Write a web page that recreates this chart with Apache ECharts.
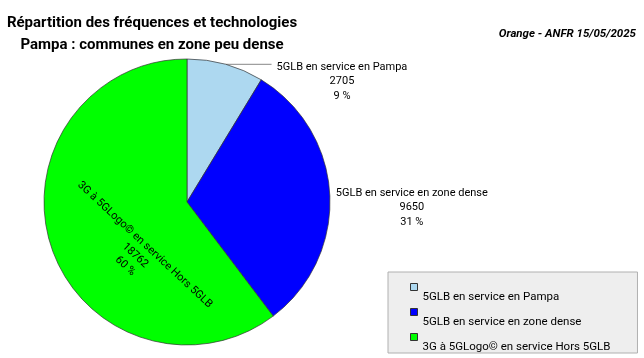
<!DOCTYPE html>
<html><head><meta charset="utf-8">
<script src="https://cdn.jsdelivr.net/npm/echarts@6/dist/echarts.min.js"></script>
<style>html,body{margin:0;padding:0;background:#fff}#c{width:644px;height:358px}</style>
</head><body><div id="c"></div>
<script>
const categories = ['5GLB en service en Pampa', '5GLB en service en zone dense', '3G à 5GLogo© en service Hors 5GLB'];
const values = [2705, 9650, 18762];
const percents = ['9 %', '31 %', '60 %'];
const colors = ['#add8f0', '#0000ff', '#00ff00'];
const titleLines = ['Répartition des fréquences et technologies', 'Pampa : communes en zone peu dense'];
const sourceText = 'Orange - ANFR 15/05/2025';

const chart = echarts.init(document.getElementById('c'));
const font = 'Roboto';
const data = categories.map((name, i) => ({
  name, value: values[i], itemStyle: { color: colors[i] }
}));
data[0].label = { position: 'outside', padding: [34, 0, 0, 0] };
data[0].labelLine = { show: true, length: 0, length2: 46, lineStyle: { color: '#888', width: 1 } };
data[1].label = { position: 'outside', padding: [25, 0, 0, 0] };
data[1].labelLine = { show: false, length: 0, length2: 1 };
data[2].label = { position: 'inner', rotate: -43 };

const titleStyle = { fontFamily: font, fontWeight: 'bold', fontSize: 15, color: '#000' };

chart.setOption({
  animation: false,
  backgroundColor: '#fff',
  title: [{
    text: titleLines[0], left: 147, top: 11, textAlign: 'center', textStyle: titleStyle
  }, {
    text: titleLines[1], left: 147, top: 33, textAlign: 'center', textStyle: titleStyle
  }, {
    text: sourceText,
    right: 3, top: 23,
    textStyle: { fontFamily: font, fontWeight: 'bold', fontStyle: 'italic', fontSize: 11.5, color: '#000' }
  }],
  legend: {
    orient: 'vertical',
    left: 388, top: 272,
    padding: [2, 27, 0, 22],
    itemWidth: 7, itemHeight: 7,
    itemGap: -4,
    backgroundColor: '#eeeeee',
    borderColor: '#b0b0b0', borderWidth: 1,
    icon: 'rect',
    itemStyle: { borderColor: '#333', borderWidth: 1 },
    formatter: name => '{s| }\n{n|' + name + '}',
    textStyle: {
      fontFamily: font, fontSize: 11.5, color: '#000',
      rich: {
        s: { fontSize: 11.5, lineHeight: 20 },
        n: { fontFamily: font, fontSize: 11.5, color: '#000', lineHeight: 14 }
      }
    },
    data: categories
  },
  series: [{
    type: 'pie',
    center: [187, 202],
    radius: 143,
    startAngle: 90,
    clockwise: true,
    avoidLabelOverlap: false,
    itemStyle: { borderColor: '#333', borderWidth: 0.7 },
    label: {
      fontFamily: font, fontSize: 11, color: '#000', lineHeight: 14.5,
      formatter: p => ['{a|' + p.name + '}', '{a|' + p.value + '}', '{a|' + percents[p.dataIndex] + '}'].join('\n'),
      rich: { a: { align: 'center', fontFamily: font, fontSize: 11, color: '#000', lineHeight: 14.5 } }
    },
    labelLayout: p => (p.dataIndex === 2 ? { dx: 34, dy: 9 } : {}),
    emphasis: { disabled: true },
    data
  }]
});
</script></body></html>
